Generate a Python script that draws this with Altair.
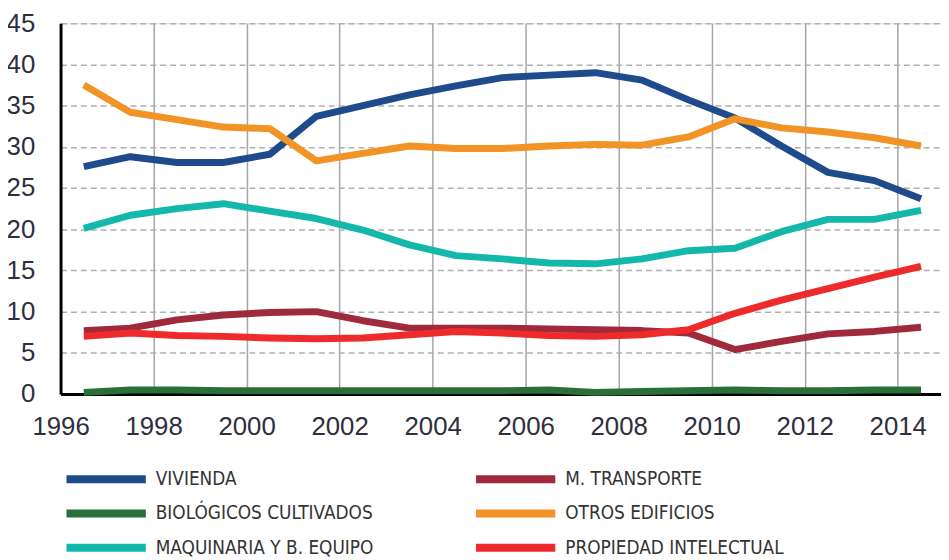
import altair as alt
import pandas as pd

years = [1996.5, 1997.5, 1998.5, 1999.5, 2000.5, 2001.5, 2002.5, 2003.5, 2004.5, 2005.5,
         2006.5, 2007.5, 2008.5, 2009.5, 2010.5, 2011.5, 2012.5, 2013.5, 2014.5]

# legend fills column by column: left column first, then right column
series_names = ["VIVIENDA", "BIOLÓGICOS CULTIVADOS", "MAQUINARIA Y B. EQUIPO",
                "M. TRANSPORTE", "OTROS EDIFICIOS", "PROPIEDAD INTELECTUAL"]
series_colors = ["#1f4a8c", "#2a6e3a", "#14b8aa", "#9e2a3c", "#f29325", "#ee2a2a"]

vivienda = [27.6, 28.8, 28.1, 28.1, 29.1, 33.7, 35.0, 36.3, 37.4, 38.4,
            38.7, 39.0, 38.1, 35.7, 33.5, 30.1, 26.9, 25.9, 23.7]
transporte = [7.7, 8.0, 9.0, 9.6, 9.9, 10.0, 8.9, 8.0, 8.0, 8.0,
              7.9, 7.8, 7.7, 7.4, 5.4, 6.4, 7.3, 7.6, 8.1]
biologicos = [0.2, 0.5, 0.5, 0.4, 0.4, 0.4, 0.4, 0.4, 0.4, 0.4,
              0.5, 0.2, 0.3, 0.4, 0.5, 0.4, 0.4, 0.5, 0.5]
otros = [37.5, 34.2, 33.3, 32.4, 32.2, 28.3, 29.2, 30.1, 29.8, 29.8,
         30.1, 30.3, 30.2, 31.2, 33.4, 32.3, 31.8, 31.1, 30.1]
maquinaria = [20.1, 21.7, 22.5, 23.1, 22.2, 21.3, 19.9, 18.1, 16.8, 16.4,
              15.9, 15.8, 16.4, 17.4, 17.7, 19.7, 21.2, 21.2, 22.3]
propiedad = [7.0, 7.4, 7.1, 7.0, 6.8, 6.7, 6.8, 7.2, 7.6, 7.4,
             7.1, 7.0, 7.2, 7.8, 9.8, 11.4, 12.8, 14.2, 15.5]

x_ticks = [1996, 1998, 2000, 2002, 2004, 2006, 2008, 2010, 2012, 2014]
y_ticks = [0, 5, 10, 15, 20, 25, 30, 35, 40, 45]

draw_order = [
    ("BIOLÓGICOS CULTIVADOS", biologicos),
    ("VIVIENDA", vivienda),
    ("OTROS EDIFICIOS", otros),
    ("MAQUINARIA Y B. EQUIPO", maquinaria),
    ("M. TRANSPORTE", transporte),
    ("PROPIEDAD INTELECTUAL", propiedad),
]
rows = []
for k, (name, vals) in enumerate(draw_order):
    for y, v in zip(years, vals):
        rows.append({"year": y, "value": v, "serie": name, "ord": k})
df = pd.DataFrame(rows)

label_color = "#2e2e3e"

chart = alt.Chart(df).mark_line(strokeWidth=7, strokeCap="butt", strokeJoin="round", clip=False).encode(
    x=alt.X("year:Q",
            scale=alt.Scale(domain=[1996, 2014.93], nice=False, zero=False),
            axis=alt.Axis(values=x_ticks, format="d", title=None, grid=True,
                          gridColor="#a4a4ac", gridWidth=1.5, gridDash=[],
                          domainColor="#000000", domainWidth=3,
                          ticks=False, tickSize=0, labelPadding=20,
                          labelFont="Liberation Sans", labelFontSize=26,
                          labelColor=label_color, labelFlush=False)),
    y=alt.Y("value:Q",
            scale=alt.Scale(domain=[0, 45], nice=False),
            axis=alt.Axis(values=y_ticks, title=None, grid=True,
                          gridColor="#b0b0b4", gridWidth=1.5, gridDash=[6, 4],
                          domainColor="#000000", domainWidth=3,
                          ticks=False, tickSize=0, labelPadding=26,
                          labelFont="Liberation Sans", labelFontSize=26,
                          labelColor=label_color)),
    color=alt.Color("serie:N",
                    scale=alt.Scale(domain=series_names, range=series_colors),
                    legend=alt.Legend(title=None, orient="none", legendX=2, legendY=450,
                                      columns=2, columnPadding=99, rowPadding=14.5,
                                      symbolType="stroke", symbolSize=6400,
                                      symbolStrokeWidth=8, clipHeight=20,
                                      symbolOffset=0, labelOffset=6, padding=0,
                                      labelFont="Liberation Sans Narrow, DejaVu Sans Condensed",
                                      labelFontSize=19, labelColor="#333333",
                                      labelLimit=400)),
    order=alt.Order("ord:Q"),
).properties(
    width=888, height=374,
    autosize=alt.AutoSizeParams(type="none"),
    padding={"left": 53, "top": 13, "right": 0, "bottom": 162},
).configure_view(stroke=None).configure(background="white")

chart.save("out.html", embed_options={"renderer": "svg", "actions": False})
